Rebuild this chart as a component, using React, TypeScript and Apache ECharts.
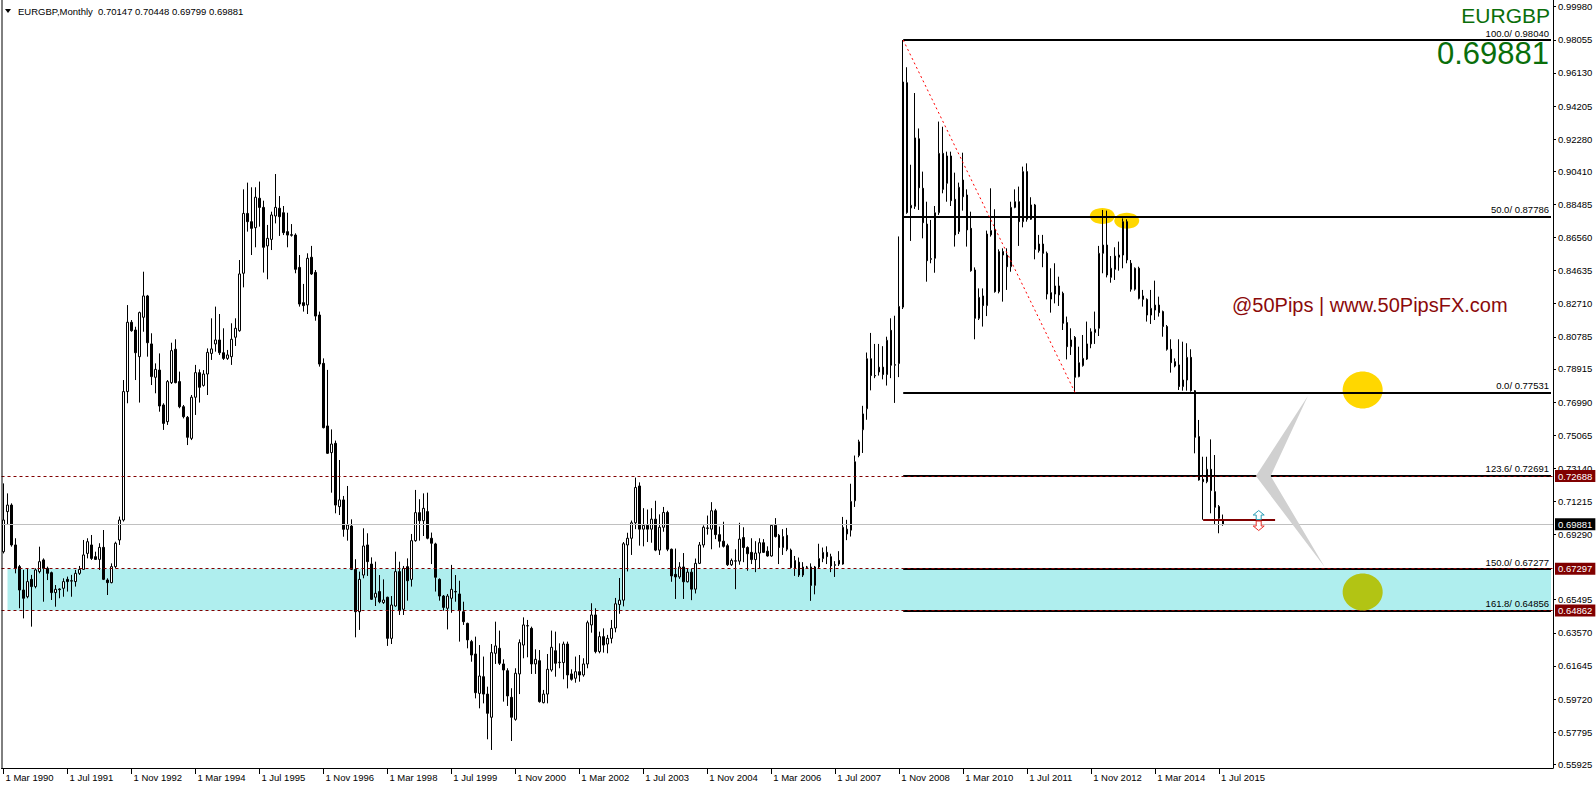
import React, { useEffect, useRef } from 'react';
import * as echarts from 'echarts';

// ---------- data (monthly EURGBP candles, index 0 = Mar 1990) ----------
const opens = [
  0.6829,0.7062,0.7100,0.6868,0.6742,0.6606,0.6567,0.6668,0.6626,0.6713,
  0.6781,0.6732,0.6707,0.6591,0.6612,0.6616,0.6668,0.6660,0.6655,0.6703,
  0.6726,0.6819,0.6868,0.6800,0.6784,0.6854,0.6664,0.6649,0.6742,0.6897,
  0.7013,0.7760,0.8163,0.8118,0.7963,0.8192,0.8316,0.8037,0.7843,0.7885,
  0.7682,0.7585,0.7812,0.8006,0.7818,0.7672,0.7610,0.7488,0.7727,0.7870,
  0.7796,0.7862,0.7982,0.8037,0.8060,0.7986,0.7953,0.7963,0.8076,0.8114,
  0.8448,0.8796,0.8748,0.8713,0.8884,0.8831,0.8607,0.8645,0.8781,0.8826,
  0.8800,0.8690,0.8672,0.8670,0.8482,0.8277,0.8264,0.8541,0.8453,0.8205,
  0.7924,0.7560,0.7405,0.7459,0.7091,0.7130,0.6959,0.6978,0.6726,0.6480,
  0.6693,0.6868,0.6757,0.6564,0.6597,0.6533,0.6564,0.6325,0.6513,0.6713,
  0.6494,0.6742,0.6668,0.6893,0.7056,0.7009,0.7062,0.6907,0.6874,0.6668,
  0.6571,0.6500,0.6558,0.6597,0.6583,0.6480,0.6412,0.6306,0.6234,0.6005,
  0.6102,0.6001,0.5866,0.6238,0.6267,0.6176,0.6137,0.5982,0.5854,0.6118,
  0.6286,0.6397,0.6383,0.6176,0.6195,0.5951,0.6001,0.6141,0.6253,0.6184,
  0.6184,0.6292,0.6118,0.6093,0.6131,0.6112,0.6176,0.6403,0.6461,0.6248,
  0.6335,0.6292,0.6325,0.6385,0.6522,0.6547,0.6868,0.6907,0.6997,0.7211,
  0.6960,0.6982,0.6960,0.7018,0.6838,0.6971,0.7057,0.6843,0.6697,0.6682,
  0.6740,0.6654,0.6710,0.6611,0.6761,0.6868,0.6967,0.6960,0.7067,0.6928,
  0.6890,0.6864,0.6753,0.6774,0.6774,0.6911,0.6853,0.6825,0.6783,0.6821,
  0.6881,0.6832,0.6804,0.6982,0.6924,0.6853,0.6924,0.6838,0.6731,0.6768,
  0.6693,0.6740,0.6740,0.6633,0.6740,0.6789,0.6825,0.6800,0.6753,0.6778,
  0.6757,0.6932,0.6954,0.7125,0.7388,0.7538,0.7660,0.7951,0.7853,0.7874,
  0.7902,0.7859,0.8116,0.7913,0.7923,0.8251,0.9556,0.8828,0.8837,0.9230,
  0.8942,0.8734,0.8529,0.8535,0.8800,0.9145,0.8971,0.9130,0.8878,0.8690,
  0.8990,0.8903,0.8709,0.8467,0.8186,0.8316,0.8260,0.8671,0.8703,0.8341,
  0.8574,0.8554,0.8486,0.8831,0.8864,0.8748,0.9039,0.8762,0.8845,0.8579,
  0.8618,0.8564,0.8335,0.8327,0.8374,0.8331,0.8161,0.8021,0.8075,0.7847,
  0.7911,0.7949,0.8037,0.8103,0.8128,0.8564,0.8612,0.8424,0.8471,0.8541,
  0.8554,0.8748,0.8506,0.8355,0.8477,0.8296,0.8296,0.8205,0.8234,0.8263,
  0.8225,0.8138,0.8006,0.7934,0.7915,0.7789,0.7827,0.7959,0.7765,0.7498,
  0.7250,0.7236,0.7308,0.7178,0.7091,0.70147,
];
const highs = [
  0.7226,0.7168,0.7110,0.6907,0.6752,0.6723,0.6732,0.6694,0.6732,0.6858,
  0.6790,0.6742,0.6713,0.6635,0.6616,0.6674,0.6684,0.6694,0.6723,0.6746,
  0.6897,0.6907,0.6926,0.6829,0.6878,0.6955,0.6674,0.6761,0.6887,0.7033,
  0.7827,0.8263,0.8176,0.8137,0.8225,0.8457,0.8322,0.8099,0.7924,0.7982,
  0.7692,0.7827,0.8044,0.8064,0.7876,0.7682,0.7618,0.7740,0.7915,0.7889,
  0.7885,0.8011,0.8186,0.8254,0.8211,0.8128,0.8002,0.8157,0.8186,0.8525,
  0.8936,0.8975,0.8948,0.8948,0.8981,0.8870,0.8729,0.8806,0.9025,0.8897,
  0.8839,0.8800,0.8734,0.8680,0.8554,0.8386,0.8564,0.8607,0.8467,0.8225,
  0.7953,0.7886,0.7540,0.7475,0.7362,0.7153,0.7211,0.7017,0.6785,0.6713,
  0.6965,0.6936,0.6796,0.6771,0.6693,0.6668,0.6567,0.6571,0.6829,0.6771,
  0.6746,0.6790,0.6932,0.7188,0.7134,0.7168,0.7172,0.6940,0.6881,0.6674,
  0.6577,0.6583,0.6752,0.6693,0.6660,0.6538,0.6416,0.6316,0.6335,0.6286,
  0.6219,0.6044,0.6292,0.6422,0.6370,0.6203,0.6151,0.6035,0.6151,0.6319,
  0.6447,0.6432,0.6393,0.6261,0.6257,0.6025,0.6234,0.6370,0.6364,0.6296,
  0.6306,0.6306,0.6145,0.6219,0.6228,0.6209,0.6428,0.6529,0.6500,0.6364,
  0.6383,0.6345,0.6432,0.6560,0.6676,0.6885,0.6939,0.7010,0.7260,0.7232,
  0.7082,0.7074,0.7082,0.7125,0.7046,0.7089,0.7067,0.6847,0.6847,0.6768,
  0.6821,0.6731,0.6731,0.6789,0.6885,0.6982,0.7039,0.7117,0.7078,0.6975,
  0.7003,0.6875,0.6789,0.6843,0.6997,0.6971,0.6860,0.6907,0.6890,0.6907,
  0.6902,0.6860,0.6988,0.7024,0.6932,0.6960,0.6967,0.6847,0.6804,0.6795,
  0.6768,0.6746,0.6761,0.6746,0.6875,0.6853,0.6860,0.6817,0.6774,0.6832,
  0.7031,0.7014,0.7224,0.7388,0.7480,0.7677,0.7987,0.8101,0.8037,0.8037,
  0.8024,0.8079,0.8186,0.8201,0.8662,0.9804,0.9646,0.9079,0.9496,0.9290,
  0.9039,0.8864,0.8758,0.8839,0.9330,0.9300,0.9155,0.9155,0.9033,0.8975,
  0.9149,0.8936,0.8806,0.8482,0.8360,0.8360,0.8696,0.8942,0.8820,0.8587,
  0.8593,0.8593,0.8864,0.8936,0.8952,0.9068,0.9087,0.8890,0.8851,0.8671,
  0.8671,0.8574,0.8477,0.8506,0.8428,0.8341,0.8196,0.8128,0.8083,0.8021,
  0.8089,0.8167,0.8128,0.8225,0.8607,0.8816,0.8812,0.8548,0.8599,0.8632,
  0.8767,0.8762,0.8525,0.8482,0.8486,0.8351,0.8302,0.8351,0.8405,0.8312,
  0.8231,0.8147,0.8064,0.7953,0.8064,0.8050,0.8041,0.8006,0.7769,0.7595,
  0.7381,0.7381,0.7482,0.7391,0.7100,0.70448,
];
const lows = [
  0.6819,0.6984,0.6858,0.6703,0.6500,0.6441,0.6558,0.6393,0.6616,0.6703,
  0.6538,0.6664,0.6548,0.6509,0.6558,0.6567,0.6597,0.6567,0.6626,0.6694,
  0.6723,0.6790,0.6781,0.6781,0.6723,0.6664,0.6577,0.6645,0.6732,0.6868,
  0.7004,0.7692,0.8108,0.7827,0.7696,0.8108,0.7963,0.7798,0.7750,0.7643,
  0.7537,0.7566,0.7804,0.7808,0.7663,0.7604,0.7449,0.7478,0.7624,0.7696,
  0.7789,0.7740,0.7944,0.7992,0.7973,0.7944,0.7944,0.7915,0.8025,0.8108,
  0.8366,0.8690,0.8554,0.8599,0.8719,0.8452,0.8413,0.8583,0.8738,0.8665,
  0.8670,0.8599,0.8661,0.8448,0.8254,0.8225,0.8211,0.8438,0.8172,0.7905,
  0.7546,0.7397,0.7172,0.7052,0.7042,0.6916,0.6893,0.6722,0.6331,0.6374,
  0.6674,0.6688,0.6548,0.6513,0.6529,0.6525,0.6281,0.6292,0.6509,0.6461,
  0.6461,0.6544,0.6626,0.6887,0.6893,0.6920,0.6901,0.6757,0.6597,0.6544,
  0.6486,0.6377,0.6474,0.6538,0.6306,0.6403,0.6267,0.6189,0.5976,0.5918,
  0.5947,0.5738,0.5676,0.6176,0.6170,0.5957,0.5932,0.5728,0.5846,0.6001,
  0.6209,0.6215,0.6118,0.6118,0.5951,0.5947,0.5947,0.6131,0.6102,0.6151,
  0.6087,0.6034,0.6079,0.6067,0.6073,0.6102,0.6151,0.6358,0.6238,0.6238,
  0.6242,0.6238,0.6296,0.6360,0.6468,0.6511,0.6714,0.6810,0.6960,0.6864,
  0.6860,0.6885,0.6881,0.6832,0.6810,0.6945,0.6832,0.6654,0.6554,0.6671,
  0.6554,0.6650,0.6547,0.6586,0.6757,0.6853,0.6928,0.6843,0.6902,0.6853,
  0.6853,0.6746,0.6746,0.6611,0.6753,0.6768,0.6718,0.6757,0.6710,0.6731,
  0.6821,0.6800,0.6800,0.6911,0.6757,0.6810,0.6832,0.6731,0.6688,0.6682,
  0.6682,0.6731,0.6543,0.6581,0.6731,0.6768,0.6757,0.6710,0.6682,0.6746,
  0.6753,0.6896,0.6917,0.7089,0.7378,0.7403,0.7596,0.7767,0.7838,0.7853,
  0.7831,0.7795,0.7838,0.7694,0.7844,0.8240,0.8794,0.8636,0.8822,0.8816,
  0.8651,0.8399,0.8506,0.8451,0.8787,0.8913,0.8864,0.8839,0.8603,0.8676,
  0.8812,0.8603,0.8457,0.8064,0.8176,0.8138,0.8199,0.8661,0.8335,0.8331,
  0.8283,0.8351,0.8457,0.8826,0.8607,0.8715,0.8748,0.8758,0.8529,0.8568,
  0.8483,0.8296,0.8219,0.8273,0.8258,0.8118,0.7947,0.7973,0.7753,0.7843,
  0.7905,0.7944,0.8012,0.8037,0.8083,0.8448,0.8424,0.8393,0.8409,0.8463,
  0.8477,0.8506,0.8341,0.8347,0.8296,0.8254,0.8167,0.8153,0.8176,0.8196,
  0.8079,0.7998,0.7870,0.7901,0.7769,0.7765,0.7765,0.7759,0.7401,0.7242,
  0.7015,0.7227,0.7052,0.6984,0.6936,0.69799,
];
const closes = [
  0.7013,0.7100,0.6868,0.6732,0.6606,0.6558,0.6655,0.6626,0.6723,0.6771,
  0.6732,0.6703,0.6591,0.6610,0.6608,0.6655,0.6655,0.6658,0.6703,0.6726,
  0.6810,0.6887,0.6790,0.6784,0.6854,0.6668,0.6649,0.6742,0.6878,0.7013,
  0.7760,0.8163,0.8114,0.7986,0.8219,0.8316,0.8044,0.7847,0.7889,0.7676,
  0.7575,0.7818,0.7998,0.7812,0.7672,0.7614,0.7494,0.7727,0.7870,0.7785,
  0.7862,0.7988,0.8008,0.8060,0.7986,0.7953,0.7973,0.8064,0.8128,0.8444,
  0.8796,0.8748,0.8709,0.8890,0.8831,0.8599,0.8651,0.8787,0.8831,0.8777,
  0.8684,0.8670,0.8669,0.8471,0.8269,0.8260,0.8535,0.8444,0.8199,0.7920,
  0.7550,0.7401,0.7455,0.7100,0.7130,0.6959,0.6984,0.6726,0.6480,0.6668,
  0.6862,0.6771,0.6552,0.6587,0.6538,0.6548,0.6325,0.6519,0.6713,0.6486,
  0.6732,0.6660,0.6893,0.7056,0.7009,0.7081,0.6907,0.6878,0.6680,0.6571,
  0.6505,0.6571,0.6610,0.6595,0.6486,0.6422,0.6316,0.6228,0.6009,0.6106,
  0.6001,0.5889,0.6242,0.6281,0.6180,0.6141,0.5990,0.5866,0.6122,0.6300,
  0.6403,0.6399,0.6176,0.6203,0.5957,0.6001,0.6145,0.6273,0.6180,0.6186,
  0.6292,0.6112,0.6087,0.6131,0.6112,0.6176,0.6416,0.6461,0.6248,0.6335,
  0.6286,0.6325,0.6383,0.6526,0.6547,0.6875,0.6907,0.6997,0.7202,0.6960,
  0.6982,0.6960,0.7018,0.6838,0.6971,0.7057,0.6843,0.6688,0.6682,0.6740,
  0.6654,0.6710,0.6611,0.6761,0.6868,0.6971,0.6965,0.7067,0.6928,0.6890,
  0.6860,0.6753,0.6778,0.6776,0.6902,0.6853,0.6817,0.6783,0.6821,0.6881,
  0.6825,0.6804,0.6982,0.6917,0.6853,0.6917,0.6843,0.6736,0.6778,0.6693,
  0.6740,0.6738,0.6633,0.6740,0.6789,0.6825,0.6800,0.6746,0.6750,0.6757,
  0.6971,0.6960,0.7121,0.7352,0.7468,0.7630,0.7951,0.7853,0.7851,0.7902,
  0.7859,0.8058,0.7913,0.7917,0.8255,0.9560,0.8801,0.8843,0.9235,0.8945,
  0.8742,0.8521,0.8533,0.8800,0.9145,0.8936,0.9130,0.8870,0.8671,0.8948,
  0.8893,0.8700,0.8463,0.8186,0.8308,0.8260,0.8676,0.8696,0.8341,0.8574,
  0.8554,0.8486,0.8831,0.8864,0.8748,0.9039,0.8762,0.8845,0.8587,0.8618,
  0.8564,0.8327,0.8298,0.8374,0.8322,0.8157,0.8021,0.8060,0.7843,0.7928,
  0.7953,0.8037,0.8108,0.8122,0.8564,0.8612,0.8438,0.8477,0.8548,0.8554,
  0.8748,0.8525,0.8355,0.8477,0.8302,0.8316,0.8205,0.8244,0.8263,0.8219,
  0.8138,0.8006,0.7928,0.7909,0.7789,0.7827,0.7959,0.7765,0.7494,0.7246,
  0.7236,0.7308,0.7184,0.7087,0.7023,0.69881,
];

const xTickLabels = [
  '1 Mar 1990','1 Jul 1991','1 Nov 1992','1 Mar 1994','1 Jul 1995','1 Nov 1996',
  '1 Mar 1998','1 Jul 1999','1 Nov 2000','1 Mar 2002','1 Jul 2003','1 Nov 2004',
  '1 Mar 2006','1 Jul 2007','1 Nov 2008','1 Mar 2010','1 Jul 2011','1 Nov 2012',
  '1 Mar 2014','1 Jul 2015',
];
const yTickValues = [
  0.99980,0.98055,0.96130,0.94205,0.92280,0.90410,0.88485,0.86560,0.84635,0.82710,
  0.80785,0.78915,0.76990,0.75065,0.73140,0.71215,0.69290,0.65495,0.63570,0.61645,
  0.59720,0.57795,0.55925,
];
const fibNames = ['100.0', '50.0', '0.0', '123.6', '150.0', '161.8'];
const fibValues = [0.98040, 0.87786, 0.77531, 0.72691, 0.67277, 0.64856];
const fibStartIndex = 225;
const redLevels = [0.72688, 0.67297, 0.64862];
const currentPrice = 0.69881;
const zoneBounds = [0.67297, 0.64862];
const swingFrom = [225, 0.98040];
const swingTo = [268, 0.77531];
const supportLevel = 0.7013;
const supportFrom = 300;
const supportTo = 318;
const topEllipseAnchors = [[274.8, 0.8781], [280.9, 0.8753]];
const targetCircleAnchors = [[339.9, 0.7769], [339.9, 0.6595]];
const chevronAnchors = [[326.2, 0.7734], [313.2, 0.7269], [330.4, 0.6740], [316.9, 0.7269]];
const arrowAnchor = [313.9, 0.7013];
const titleText = 'EURGBP,Monthly  0.70147 0.70448 0.69799 0.69881';
const symbolText = 'EURGBP';
const bigPriceText = '0.69881';
const watermarkText = '@50Pips | www.50PipsFX.com';

const Y_MIN = 0.557106;
const Y_MAX = 1.003696;
const N_CATS = 388;
const MONTHS = ['Jan','Feb','Mar','Apr','May','Jun','Jul','Aug','Sep','Oct','Nov','Dec'];
const categories: string[] = [];
for (let k = 0; k < N_CATS; k++) {
  const m = 2 + k;
  categories.push(MONTHS[m % 12] + ' ' + (1990 + Math.floor(m / 12)));
}

const FONT = '"Liberation Sans", Arial, sans-serif';
const showTick = (i: number) => i % 16 === 0 && i / 16 < xTickLabels.length;

export default function App() {
  const ref = useRef<HTMLDivElement>(null);
  useEffect(() => {
    const el = ref.current!;
    const chart = echarts.init(el, null, { renderer: 'svg', width: 1596, height: 786 });
    const lastCat = N_CATS - 1;

    const markLines: any[] = [];
    fibValues.forEach((v, k) => {
      markLines.push([
        {
          coord: [fibStartIndex, v],
          lineStyle: { color: '#000000', width: 2, type: 'solid' },
          label: {
            show: true, position: 'insideEndTop', distance: 2,
            formatter: fibNames[k] + '/ ' + v.toFixed(5),
            color: '#000000', fontSize: 9.5, fontFamily: FONT,
          },
        },
        { coord: [lastCat, v] },
      ]);
    });
    redLevels.forEach((v) => {
      markLines.push({
        yAxis: v,
        lineStyle: { color: '#800000', width: 1, type: [3, 3] },
        label: {
          show: true, position: 'end', distance: 2, formatter: v.toFixed(5),
          backgroundColor: '#800000', color: '#ffffff', fontSize: 9.5, fontFamily: FONT,
          padding: [1, 3, 0, 3], lineHeight: 11,
        },
      });
    });
    markLines.push({
      yAxis: currentPrice,
      lineStyle: { color: '#c0c0c0', width: 1, type: 'solid' },
      label: {
        show: true, position: 'end', distance: 2, formatter: currentPrice.toFixed(5),
        backgroundColor: '#000000', color: '#ffffff', fontSize: 9.5, fontFamily: FONT,
        padding: [1, 3, 0, 3], lineHeight: 11,
      },
    });
    markLines.push([
      { coord: swingFrom, lineStyle: { color: '#ff0000', width: 1, type: [2, 3] }, label: { show: false } },
      { coord: swingTo },
    ]);
    markLines.push([
      { coord: [supportFrom, supportLevel], lineStyle: { color: '#800000', width: 2, type: 'solid' }, label: { show: false } },
      { coord: [supportTo, supportLevel] },
    ]);

    const option: any = {
      animation: false,
      backgroundColor: '#ffffff',
      grid: { left: 1.5, top: 0, width: 1551.5, height: 768, containLabel: false },
      xAxis: {
        type: 'category',
        data: categories,
        boundaryGap: true,
        axisLine: { show: true, lineStyle: { color: '#000000', width: 1 } },
        axisTick: { show: true, alignWithLabel: true, interval: (i: number) => showTick(i), length: 6, lineStyle: { color: '#000000' } },
        axisLabel: {
          show: true,
          interval: (i: number) => showTick(i),
          formatter: (_v: string, i: number) => (showTick(i) ? xTickLabels[i / 16] : ''),
          align: 'left', margin: 4, padding: [0, 0, 0, 2],
          fontSize: 9.5, fontFamily: FONT, color: '#000000',
        },
        splitLine: { show: false },
      },
      yAxis: {
        type: 'value', position: 'right', min: Y_MIN, max: Y_MAX, scale: true,
        axisLine: { show: true, onZero: false, lineStyle: { color: '#000000', width: 1 } },
        axisTick: { show: true, customValues: yTickValues, length: 3, lineStyle: { color: '#000000' } },
        axisLabel: {
          show: true, customValues: yTickValues, formatter: (v: number) => v.toFixed(5),
          margin: 5, fontSize: 9.5, fontFamily: FONT, color: '#000000',
        },
        splitLine: { show: false },
      },
      series: [
        {
          type: 'candlestick',
          data: opens.map((o, i) => [o, closes[i], lows[i], highs[i]]),
          barWidth: 2,
          itemStyle: {
            color: '#ffffff', color0: '#000000', borderColor: '#000000',
            borderColor0: '#000000', borderColorDoji: '#000000', borderWidth: 1,
          },
          markArea: {
            silent: true,
            itemStyle: { color: '#AFEEEE' },
            data: [[{ coord: [1, zoneBounds[0]] }, { coord: [lastCat, zoneBounds[1]] }]],
          },
          markLine: {
            silent: true,
            symbol: ['none', 'none'],
            precision: 5,
            animation: false,
            data: markLines,
          },
        },
      ],
    };
    chart.setOption(option);

    const xAt = (fi: number) => {
      const i0 = Math.floor(fi);
      const a = chart.convertToPixel({ gridIndex: 0 }, [i0, Y_MIN])[0];
      const b = chart.convertToPixel({ gridIndex: 0 }, [i0 + 1, Y_MIN])[0];
      return a + (b - a) * (fi - i0);
    };
    const yAt = (p: number) => chart.convertToPixel({ gridIndex: 0 }, [0, p])[1];

    const g: any[] = [];
    g.push({ type: 'line', z: 50, shape: { x1: 2, y1: 0, x2: 2, y2: 768 }, style: { stroke: '#000000', lineWidth: 1 } });
    g.push({ type: 'polygon', z: 50, shape: { points: [[5, 9], [11, 9], [8, 13]] }, style: { fill: '#000000' } });
    g.push({ type: 'text', z: 50, x: 18, y: 11, style: { text: titleText, fill: '#000000', font: '9.5px ' + FONT, textVerticalAlign: 'middle' } });
    g.push({ type: 'text', z: 50, x: 1550, y: 15, style: { text: symbolText, fill: '#0a6e0a', font: '21px ' + FONT, textAlign: 'right', textVerticalAlign: 'middle' } });
    g.push({ type: 'text', z: 50, x: 1549, y: 53, style: { text: bigPriceText, fill: '#0a6e0a', font: '31px ' + FONT, textAlign: 'right', textVerticalAlign: 'middle' } });
    g.push({ type: 'text', z: 50, x: 1232, y: 305, style: { text: watermarkText, fill: '#8b0a0a', font: '20px ' + FONT, textVerticalAlign: 'middle' } });

    topEllipseAnchors.forEach(([i, p]) => {
      g.push({ type: 'ellipse', z: 1, shape: { cx: xAt(i), cy: yAt(p), rx: 12.5, ry: 8 }, style: { fill: '#FFD700' } });
    });
    g.push({ type: 'ellipse', z: 1, shape: { cx: xAt(targetCircleAnchors[0][0]), cy: yAt(targetCircleAnchors[0][1]), rx: 20, ry: 18.5 }, style: { fill: '#FFD700' } });
    g.push({ type: 'ellipse', z: 10, shape: { cx: xAt(targetCircleAnchors[1][0]), cy: yAt(targetCircleAnchors[1][1]), rx: 20, ry: 18.5 }, style: { fill: '#B2C414' } });
    g.push({ type: 'polygon', z: 10, shape: { points: chevronAnchors.map(([i, p]) => [xAt(i), yAt(p)]) }, style: { fill: '#D0D0D0' } });

    const ax = xAt(arrowAnchor[0]);
    const ay = yAt(arrowAnchor[1]);
    const up = [[0, -9.5], [5.5, -5], [2.5, -5], [2.5, -0.5], [-2.5, -0.5], [-2.5, -5], [-5.5, -5]];
    const down = [[0, 10.5], [5.5, 6], [2.5, 6], [2.5, 1], [-2.5, 1], [-2.5, 6], [-5.5, 6]];
    g.push({ type: 'polygon', z: 20, shape: { points: up.map(([dx, dy]) => [ax + dx, ay + dy]) }, style: { fill: '#ffffff', stroke: '#2a9db5', lineWidth: 1 } });
    g.push({ type: 'polygon', z: 20, shape: { points: down.map(([dx, dy]) => [ax + dx, ay + dy]) }, style: { fill: '#ffffff', stroke: '#e8302a', lineWidth: 1 } });

    chart.setOption({ graphic: g });
    return () => chart.dispose();
  }, []);
  return <div ref={ref} style={{ position: 'fixed', left: 0, top: 0, width: 1596, height: 786, background: '#ffffff' }} />;
}
